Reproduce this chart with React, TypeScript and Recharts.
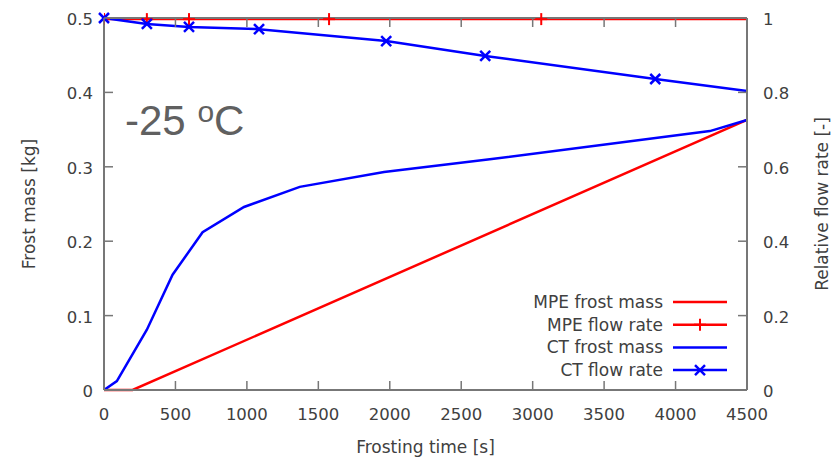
import { ComposedChart, Line, XAxis, YAxis } from 'recharts';

// CT frost mass [kg]
const ctMassTime = [0, 90, 300, 480, 690, 980, 1370, 1960, 2700, 4240, 4500];
const ctMass = [0, 0.012, 0.081, 0.155, 0.212, 0.246, 0.273, 0.293, 0.31, 0.348, 0.363];

// MPE frost mass [kg]
const mpeMassTime = [0, 200, 4500];
const mpeMass = [0, 0, 0.363];

// MPE relative flow rate [-]
const mpeRateTime = [0, 300, 595, 1575, 3060, 4500];
const mpeRate = [0.997, 0.997, 0.997, 0.997, 0.997, 0.997];

// CT relative flow rate [-]
const ctRateTime = [0, 300, 595, 1085, 1975, 2668, 3858, 4500];
const ctRate = [1.0, 0.984, 0.976, 0.97, 0.938, 0.898, 0.836, 0.804];

const xTicks = [0, 500, 1000, 1500, 2000, 2500, 3000, 3500, 4000, 4500];
const massTicks = [0, 0.1, 0.2, 0.3, 0.4, 0.5];
const rateTicks = [0, 0.2, 0.4, 0.6, 0.8, 1];

const legendNames = ['MPE frost mass', 'MPE flow rate', 'CT frost mass', 'CT flow rate'];

const RED = '#ff0000';
const BLUE = '#0000ff';
const AXIS = '#777777';
const TEXT = '#404040';
const FONT = 'DejaVu Sans, sans-serif';
const TICK_LEN = 9;

const zip = (xs: number[], ys: number[]) => xs.map((x, i) => ({ x, y: ys[i] }));

const ctMassData = zip(ctMassTime, ctMass);
const mpeMassData = zip(mpeMassTime, mpeMass);
const mpeRateData = zip(mpeRateTime, mpeRate);
const ctRateData = zip(ctRateTime, ctRate);

const Plus = ({ cx, cy }: { cx: number; cy: number }) => (
  <g stroke={RED} strokeWidth={2}>
    <line x1={cx} y1={cy - 6} x2={cx} y2={cy + 6} />
    <line x1={cx - 6} y1={cy} x2={cx + 6} y2={cy} />
  </g>
);

const Cross = ({ cx, cy }: { cx: number; cy: number }) => (
  <g stroke={BLUE} strokeWidth={2.5}>
    <line x1={cx - 5} y1={cy - 5} x2={cx + 5} y2={cy + 5} />
    <line x1={cx - 5} y1={cy + 5} x2={cx + 5} y2={cy - 5} />
  </g>
);

// markers on every sample except the final end point
const markerDot = (Shape: typeof Plus, count: number) => (props: any) => {
  const { cx, cy, index } = props;
  if (index >= count - 1 || cx == null) return <g key={`m${index}`} />;
  return <Shape key={`m${index}`} cx={cx} cy={cy} />;
};

const tickText = { fill: TEXT, fontSize: 16.5, fontFamily: FONT };
const labelStyle = { fill: TEXT, fontSize: 17, fontFamily: FONT, textAnchor: 'middle' as const };

// gnuplot-style ticks: short marks pointing into the plot, label outside
const BottomTick = ({ x, y, payload }: any) => (
  <g>
    <line x1={x} y1={y} x2={x} y2={y - TICK_LEN} stroke={AXIS} strokeWidth={1.5} />
    <text x={x} y={y + 30} textAnchor="middle" {...tickText}>
      {payload.value}
    </text>
  </g>
);

const TopTick = ({ x, y }: any) => (
  <line x1={x} y1={y} x2={x} y2={y + TICK_LEN} stroke={AXIS} strokeWidth={1.5} />
);

const LeftTick = ({ x, y, payload }: any) => (
  <g>
    <line x1={x} y1={y} x2={x + TICK_LEN} y2={y} stroke={AXIS} strokeWidth={1.5} />
    <text x={x - 11} y={y + 7} textAnchor="end" {...tickText}>
      {payload.value}
    </text>
  </g>
);

const RightTick = ({ x, y, payload }: any) => (
  <g>
    <line x1={x} y1={y} x2={x - TICK_LEN} y2={y} stroke={AXIS} strokeWidth={1.5} />
    <text x={x + 16} y={y + 7} textAnchor="start" {...tickText}>
      {payload.value}
    </text>
  </g>
);

const legendRows = [
  { color: RED, marker: null as any },
  { color: RED, marker: Plus },
  { color: BLUE, marker: null as any },
  { color: BLUE, marker: Cross },
];

function ChartLegend() {
  return (
    <g fontFamily={FONT} fontSize={17} fill={TEXT}>
      {legendNames.map((name, i) => {
        const y = 302 + i * 22.7;
        const row = legendRows[i];
        const M = row.marker;
        return (
          <g key={name}>
            <text x={663} y={y} textAnchor="end" dominantBaseline="central">
              {name}
            </text>
            <line x1={673} y1={y} x2={727} y2={y} stroke={row.color} strokeWidth={2.5} />
            {M && <M cx={700} cy={y} />}
          </g>
        );
      })}
    </g>
  );
}

export default function App() {
  return (
    <div style={{ position: 'absolute', left: 0, top: 0, background: '#fff' }}>
      <ComposedChart width={839} height={457} margin={{ top: 17, right: 0, bottom: 0, left: 0 }}>
        <XAxis
          xAxisId="bottom"
          dataKey="x"
          type="number"
          domain={[0, 4500]}
          ticks={xTicks}
          height={67}
          stroke={AXIS}
          strokeWidth={2}
          tickLine={false}
          tickSize={0}
          tickMargin={0}
          tick={BottomTick}
          label={{ value: 'Frosting time [s]', position: 'insideBottom', offset: 4, style: labelStyle }}
        />
        <XAxis
          xAxisId="top"
          orientation="top"
          dataKey="x"
          type="number"
          domain={[0, 4500]}
          allowDataOverflow
          ticks={xTicks}
          height={1}
          stroke={AXIS}
          strokeWidth={2}
          tickLine={false}
          tickSize={0}
          tickMargin={0}
          tick={TopTick}
        />
        <YAxis
          yAxisId="left"
          type="number"
          domain={[0, 0.5]}
          ticks={massTicks}
          width={104}
          stroke={AXIS}
          strokeWidth={2}
          tickLine={false}
          tickSize={0}
          tickMargin={0}
          tick={LeftTick}
          label={{ value: 'Frost mass [kg]', angle: -90, position: 'insideLeft', offset: 29, style: labelStyle }}
        />
        <YAxis
          yAxisId="right"
          orientation="right"
          type="number"
          domain={[0, 1]}
          ticks={rateTicks}
          width={92}
          stroke={AXIS}
          strokeWidth={2}
          tickLine={false}
          tickSize={0}
          tickMargin={0}
          tick={RightTick}
          label={{ value: 'Relative flow rate [-]', angle: -90, position: 'insideRight', offset: 17, style: labelStyle }}
        />
        <Line
          data={mpeMassData}
          dataKey="y"
          name="MPE frost mass"
          xAxisId="bottom"
          yAxisId="left"
          type="linear"
          stroke={RED}
          strokeWidth={2.5}
          dot={false}
          isAnimationActive={false}
        />
        <Line
          data={ctMassData}
          dataKey="y"
          name="CT frost mass"
          xAxisId="bottom"
          yAxisId="left"
          type="linear"
          stroke={BLUE}
          strokeWidth={2.5}
          dot={false}
          isAnimationActive={false}
        />
        <Line
          data={mpeRateData}
          dataKey="y"
          name="MPE flow rate"
          xAxisId="top"
          yAxisId="right"
          type="linear"
          stroke={RED}
          strokeWidth={2.5}
          dot={markerDot(Plus, mpeRateData.length)}
          isAnimationActive={false}
        />
        <Line
          data={ctRateData}
          dataKey="y"
          name="CT flow rate"
          xAxisId="bottom"
          yAxisId="right"
          type="linear"
          stroke={BLUE}
          strokeWidth={2.5}
          dot={markerDot(Cross, ctRateData.length)}
          isAnimationActive={false}
        />
        <text x={125} y={135} fill="#606060" fontFamily="Liberation Sans, Arial, sans-serif" fontSize={42}>
          -25{' '}
          <tspan fontSize={30} dy={-13}>
            o
          </tspan>
          <tspan dy={13}>C</tspan>
        </text>
        <ChartLegend />
      </ComposedChart>
    </div>
  );
}
